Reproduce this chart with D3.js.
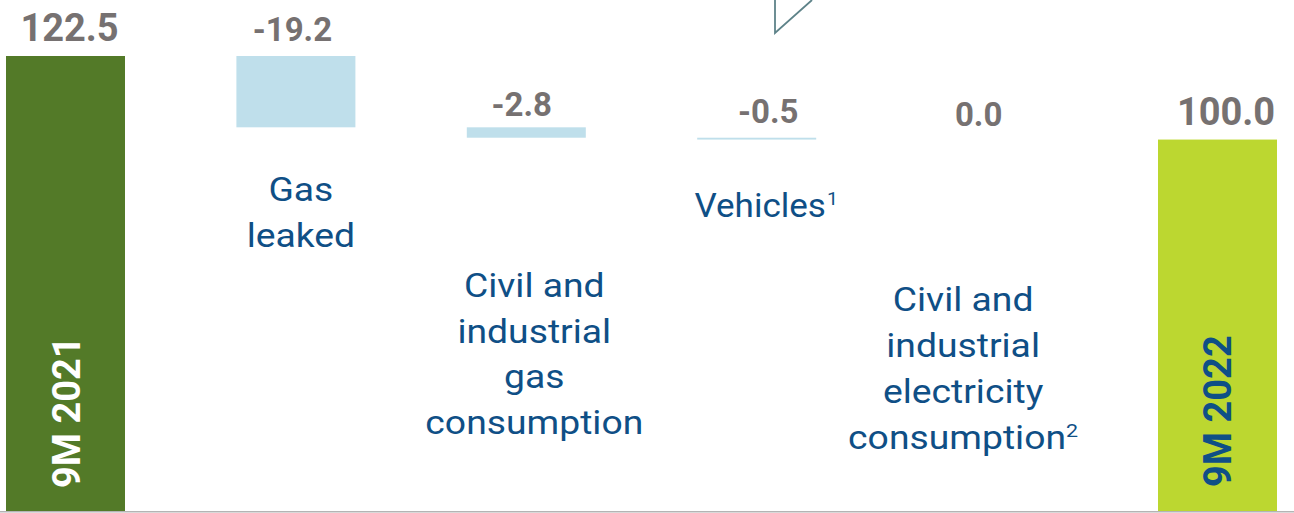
<!DOCTYPE html>
<html>
<head>
<meta charset="utf-8">
<script src="https://cdn.jsdelivr.net/npm/d3@7"></script>
<style>
  html, body { margin: 0; padding: 0; background: #ffffff; }
  svg { display: block; }
</style>
</head>
<body>
<svg id="chart" width="1294" height="513"></svg>
<script>
// Emissions bridge, 9M 2021 -> 9M 2022 (index, 9M 2021 = 122.5)
const categories = ["9M 2021", "Gas leaked", "Civil and industrial gas consumption", "Vehicles", "Civil and industrial electricity consumption", "9M 2022"];
const kinds = ["total", "delta", "delta", "delta", "delta", "total"];
const values = [122.5, -19.2, -2.8, -0.5, 0.0, 100.0];
const valueLabels = ["122.5", "-19.2", "-2.8", "-0.5", "0.0", "100.0"];
const labelLines = [
  [],
  ["Gas", "leaked"],
  ["Civil and", "industrial", "gas", "consumption"],
  ["Vehicles"],
  ["Civil and", "industrial", "electricity", "consumption"],
  []
];
const footnotes = ["", "", "", "1", "2", ""];

// Running totals for the floating bars
const bars = [];
let running = 0;
values.forEach((v, i) => {
  if (kinds[i] === "total") {
    bars.push({ i, start: 0, end: v });
    running = v;
  } else {
    bars.push({ i, start: running, end: running + v });
    running += v;
  }
});

const svg = d3.select("#chart");
const W = 1294, H = 513;

const x = d3.scaleBand()
  .domain(d3.range(categories.length))
  .range([6, 1277])
  .paddingInner(0.4835)
  .paddingOuter(0);

const y = d3.scaleLinear().domain([0, 122.5]).range([511, 56]);

const barFill = ["#537a28", "#bfdfeb", "#bfdfeb", "#bfdfeb", "#bfdfeb", "#bcd730"];

// Callout pointer at the top edge
svg.append("path")
  .attr("d", "M775,-2 L775,33 L812,0")
  .attr("fill", "none")
  .attr("stroke", "#5e8389")
  .attr("stroke-width", 1.8);

// Bars
svg.append("g").selectAll("rect")
  .data(bars)
  .join("rect")
  .attr("x", d => x(d.i))
  .attr("width", x.bandwidth())
  .attr("y", d => y(Math.max(d.start, d.end)))
  .attr("height", d => Math.abs(y(d.start) - y(d.end)))
  .attr("fill", d => barFill[d.i]);

// Baseline
svg.append("line")
  .attr("x1", 0).attr("x2", W)
  .attr("y1", y(0) + 0.8).attr("y2", y(0) + 0.8)
  .attr("stroke", "#b4b4b4")
  .attr("stroke-width", 1.6);

// Value labels above each bar
const valueNudge = [
  { dx: 4, dy: -15, size: 38 },
  { dx: -3.5, dy: -15, size: 33 },
  { dx: -4.5, dy: -11, size: 33 },
  { dx: 11.5, dy: -15, size: 33 },
  { dx: -8.5, dy: -14, size: 33 },
  { dx: 8.5, dy: -15, size: 38 }
];
svg.append("g").selectAll("text")
  .data(bars)
  .join("text")
  .attr("x", d => x(d.i) + x.bandwidth() / 2 + valueNudge[d.i].dx)
  .attr("y", d => y(Math.max(d.start, d.end)) + valueNudge[d.i].dy)
  .attr("text-anchor", "middle")
  .attr("font-family", "Roboto, 'Liberation Sans', sans-serif")
  .attr("font-weight", 700)
  .attr("font-size", d => valueNudge[d.i].size)
  .attr("fill", "#767171")
  .text(d => valueLabels[d.i]);

// Category text blocks for the intermediate steps (slightly widened type)
const catLayout = [
  null,
  { dx: 5, y0: 201, stretch: 1.13, size: 33, supDx: 1 },
  { dx: 8, y0: 297, stretch: 1.13, size: 33, supDx: 1 },
  { dx: 9.5, y0: 217, stretch: 1.03, size: 34, supDx: 1 },
  { dx: -24, y0: 311.5, stretch: 1.13, size: 33, supDx: 0 },
  null
];
const lineGap = 45.7;

labelLines.forEach((lines, i) => {
  if (!lines.length) return;
  const L = catLayout[i];
  const cx = x(i) + x.bandwidth() / 2 + L.dx;
  const g = svg.append("g")
    .attr("transform", `translate(${cx},0) scale(${L.stretch},1)`)
    .attr("font-family", "Roboto, 'Liberation Sans', sans-serif")
    .attr("font-size", L.size)
    .attr("fill", "#0f4f86");
  lines.forEach((ln, k) => {
    const t = g.append("text")
      .attr("x", 0)
      .attr("y", L.y0 + k * lineGap)
      .attr("text-anchor", "middle");
    t.append("tspan").text(ln);
    if (k === lines.length - 1 && footnotes[i]) {
      t.append("tspan")
        .attr("font-size", 19)
        .attr("dy", -12)
        .attr("dx", L.supDx)
        .text(footnotes[i]);
    }
  });
});

// Period names written up the total bars
const periodColor = ["#ffffff", null, null, null, null, "#0f4f86"];
bars.filter(d => kinds[d.i] === "total").forEach(d => {
  const cx = x(d.i) + x.bandwidth() / 2;
  svg.append("text")
    .attr("transform", `translate(${cx + 14},${d.i === 0 ? 488 : 487}) rotate(-90)`)
    .attr("font-family", "Roboto, 'Liberation Sans', sans-serif")
    .attr("font-weight", 700)
    .attr("font-size", 38)
    .attr("fill", periodColor[d.i])
    .text(categories[d.i]);
});
</script>
</body>
</html>
